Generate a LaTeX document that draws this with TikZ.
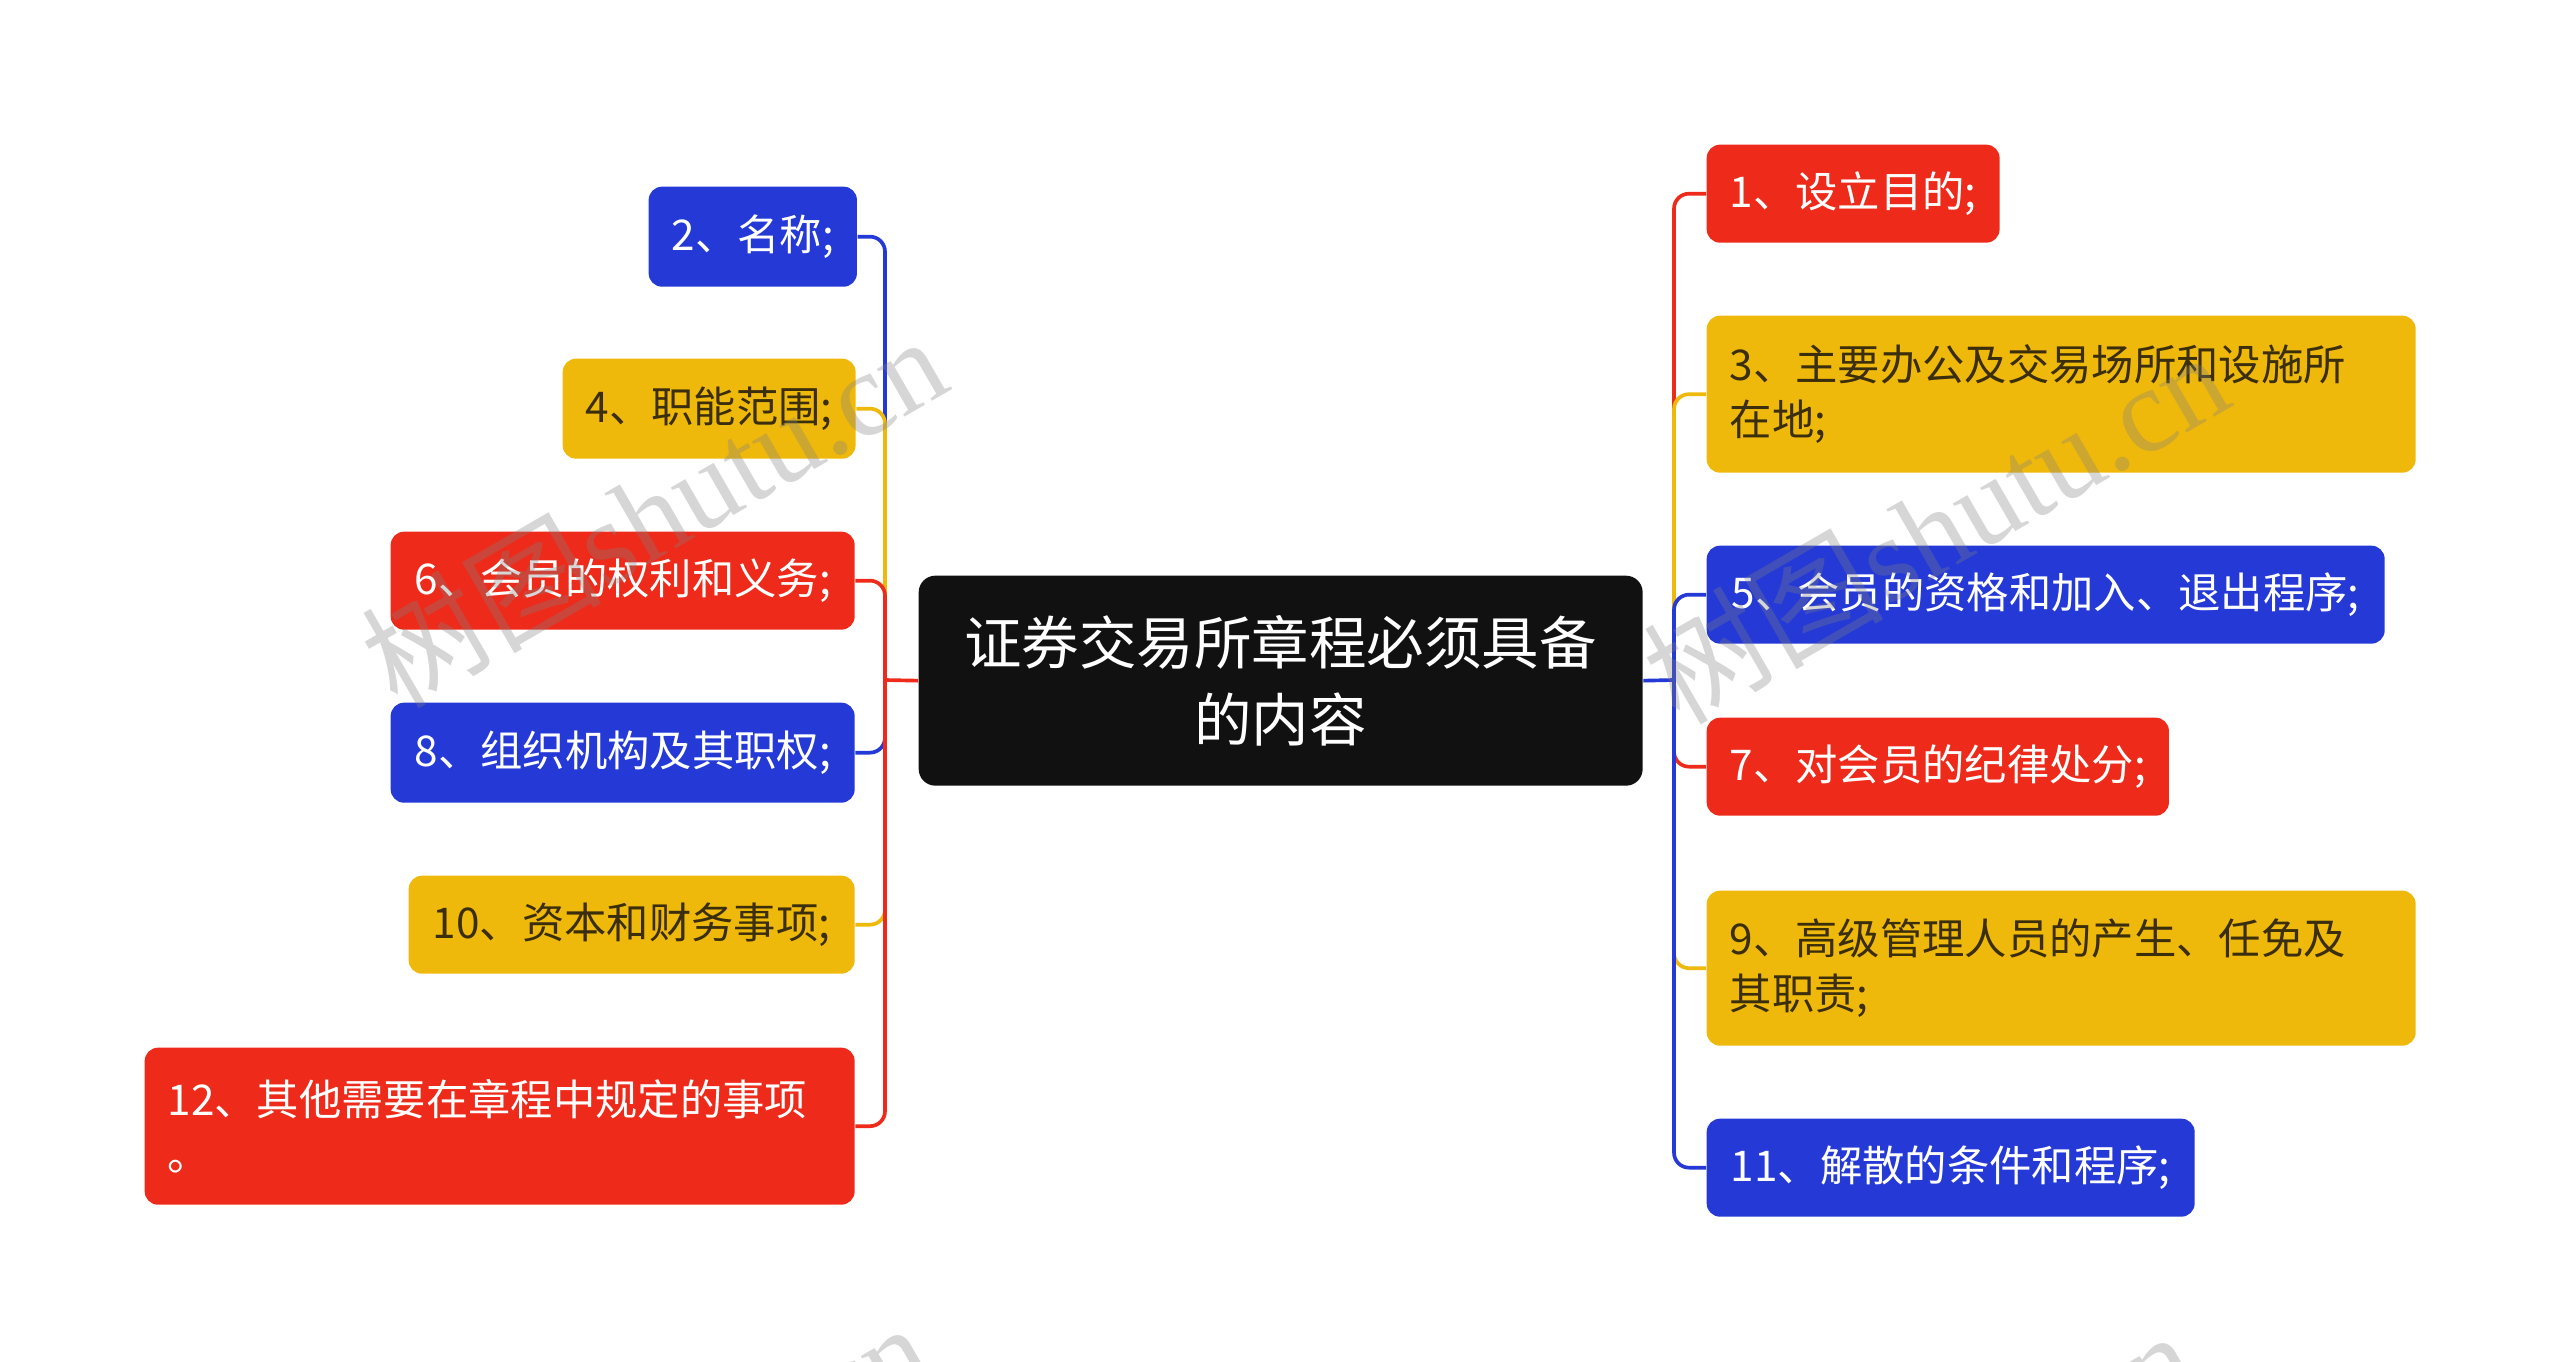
\documentclass[tikz,border=0pt]{standalone}
\usepackage{fontspec}
\setmainfont{Noto Sans CJK SC}
\newfontfamily\wmlatin{Liberation Serif}
\definecolor{cred}{HTML}{EE2A1A}
\definecolor{cyel}{HTML}{EFB90B}
\definecolor{cblue}{HTML}{2439D6}
\definecolor{cblack}{HTML}{111111}
\definecolor{darktxt}{HTML}{3A2E0C}
\tikzset{
  box/.style={rounded corners=4pt, inner sep=0pt, inner xsep=6.9pt, anchor=north west,
    font=\fontsize{12.7}{16.6}\selectfont},
  redbox/.style={box, fill=cred, text=white},
  yelbox/.style={box, fill=cyel, text=darktxt},
  bluebox/.style={box, fill=cblue, text=white},
  conn/.style={line width=1.1pt, rounded corners=4.5pt},
  wm/.style={rotate=30, text=gray, opacity=0.32, font=\fontsize{36}{36}\selectfont},
}
\begin{document}
\begin{tikzpicture}[x=0.3pt,y=-0.3pt]
\clip (0,0) rectangle (2560,1361);
\fill[white] (0,0) rectangle (2560,1361);

% central node
\node[fill=cblack, text=white, rounded corners=5pt, inner sep=0pt, align=center,
  minimum width=724*0.3pt, minimum height=210*0.3pt, anchor=north west,
  font=\fontsize{17.25}{23}\selectfont] (c) at (918,575) {证券交易所章程必须具备\\的内容};

% left nodes
\node[bluebox, minimum width=206*0.3pt, minimum height=100*0.3pt] (n2) at (648,186) {2、名称;};
\node[yelbox, minimum width=292*0.3pt, minimum height=100*0.3pt] (n4) at (562,358) {4、职能范围;};
\node[redbox, minimum width=464*0.3pt, minimum height=98*0.3pt] (n6) at (390,531) {6、会员的权利和义务;};
\node[bluebox, minimum width=464*0.3pt, minimum height=100*0.3pt] (n8) at (390,702) {8、组织机构及其职权;};
\node[yelbox, minimum width=446*0.3pt, minimum height=98*0.3pt] (n10) at (408,875) {10、资本和财务事项;};
\node[redbox, text width=664*0.3pt, align=left, minimum height=157*0.3pt] (n12) at (144,1047) {12、其他需要在章程中规定的事项\\。};

% right nodes
\node[redbox, minimum width=291*0.3pt, minimum height=98*0.3pt] (n1) at (1706,144) {1、设立目的;};
\node[yelbox, text width=663*0.3pt, align=left, minimum height=157*0.3pt] (n3) at (1706,315) {3、主要办公及交易场所和设施所\\在地;};
\node[bluebox, minimum width=678*0.3pt, minimum height=98*0.3pt] (n5) at (1706,545) {5、会员的资格和加入、退出程序;};
\node[redbox, minimum width=462*0.3pt, minimum height=98*0.3pt] (n7) at (1706,717) {7、对会员的纪律处分;};
\node[yelbox, text width=663*0.3pt, align=left, minimum height=155*0.3pt] (n9) at (1706,890) {9、高级管理人员的产生、任免及\\其职责;};
\node[bluebox, minimum width=488*0.3pt, minimum height=98*0.3pt] (n11) at (1706,1118) {11、解散的条件和程序;};

% connectors
\coordinate (lj) at (885,680);
\coordinate (rj) at (1674,680);
\draw[conn, cblue] (lj) |- (n2.east);
\draw[conn, cyel] (lj) |- (n4.east);
\draw[conn, cred] (lj) |- (n6.east);
\draw[conn, cblue] (lj) |- (n8.east);
\draw[conn, cyel] (lj) |- (n10.east);
\draw[conn, cred] (lj) |- (n12.east);
\draw[conn, cred] (c.west) -- (lj);

\draw[conn, cred] (rj) |- (n1.west);
\draw[conn, cyel] (rj) |- (n3.west);
\draw[conn, cblue] (rj) |- (n5.west);
\draw[conn, cred] (rj) |- (n7.west);
\draw[conn, cyel] (rj) |- (n9.west);
\draw[conn, cblue] (rj) |- (n11.west);
\draw[conn, cblue] (c.east) -- (rj);

% watermarks
\node[wm] (wm1) at (653,510) {树图{\wmlatin shutu.cn}};
\node[wm] (wm2) at (1935,526) {树图{\wmlatin shutu.cn}};
\node[wm] (wm3) at (637,1497) {树图{\wmlatin shutu.cn}};
\node[wm] (wm4) at (1902,1505) {树图{\wmlatin shutu.cn}};
\end{tikzpicture}
\end{document}
